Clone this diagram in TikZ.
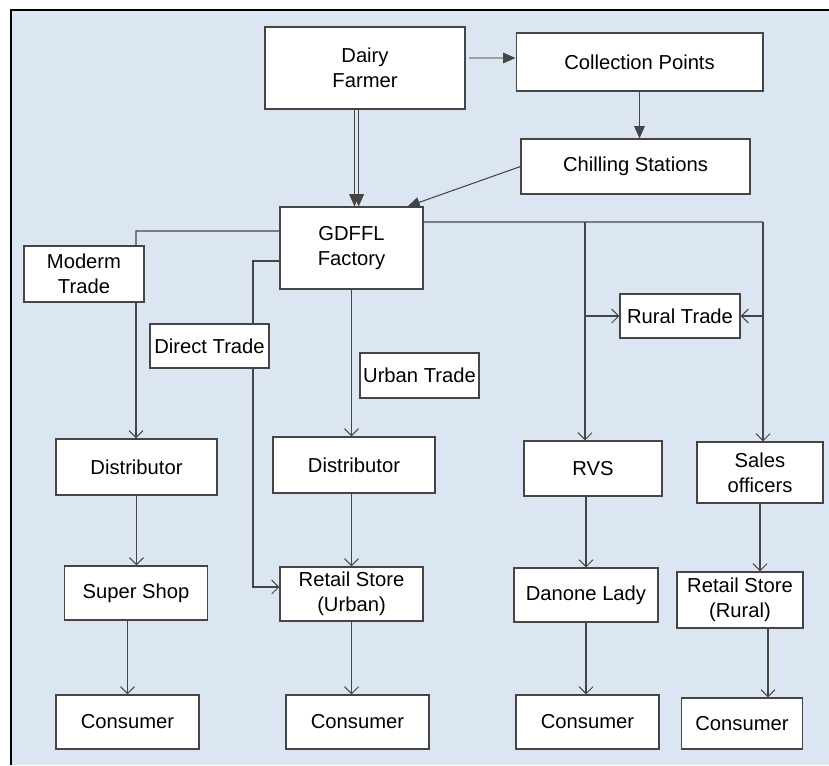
\documentclass[tikz,border=0pt]{standalone}
\usepackage{fontspec}
\setmainfont{Liberation Sans}
\usetikzlibrary{arrows.meta}
\definecolor{panelblue}{HTML}{DCE6F2}
\definecolor{linegray}{HTML}{454545}
\definecolor{thingray}{HTML}{A0A0A0}
\tikzset{chainbox/.style={draw=linegray,fill=white,line width=0.6pt,align=center,inner sep=1pt,font=\fontsize{11.5}{14}\selectfont},
	boxsize/.style 2 args={minimum width=#1cm,minimum height=#2cm},
	flow/.style={draw=linegray,line width=0.6pt,-{Straight Barb[length=4pt,width=8pt]}},
	feed/.style={draw=linegray,line width=0.6pt,-{Triangle[length=7pt,width=6pt,color=linegray]}},
	link/.style={draw=linegray,line width=0.6pt}}

\begin{document}
\begin{tikzpicture}[x=0.02cm,y=-0.02cm]
		\useasboundingbox (0,0) rectangle (829,765);
		\fill[panelblue] (11,10) rectangle (829,765);
		\draw[black,line width=1.2pt] (829,10) -- (11,10) -- (11,765);
		%
		\node[chainbox,boxsize={4.0}{1.64}] (df) at (365,68) {Dairy\\Farmer};
		\node[chainbox,boxsize={4.94}{1.16}] (cp) at (639.5,62) {Collection Points};
		\node[chainbox,boxsize={4.58}{1.10}] (cs) at (635.5,166.5) {Chilling Stations};
		\node[chainbox,boxsize={2.86}{1.64}] (gd) at (351.5,248) {GDFFL\\Factory};
		\node[chainbox,boxsize={2.40}{1.12}] (mt) at (84,274) {Moderm\\Trade};
		\node[chainbox,boxsize={2.38}{0.88}] (dt) at (209.5,346) {Direct Trade};
		\node[chainbox,boxsize={2.38}{0.90}] (ut) at (419.5,375.5) {Urban Trade};
		\node[chainbox,boxsize={2.40}{0.88}] (rt) at (680,316) {Rural Trade};
		\node[chainbox,boxsize={3.22}{1.12}] (d1) at (136.5,467) {Distributor};
		\node[chainbox,boxsize={3.24}{1.12}] (d2) at (354,465) {Distributor};
		\node[chainbox,boxsize={2.76}{1.10}] (rvs) at (593,468.5) {RVS};
		\node[chainbox,boxsize={2.52}{1.22}] (so) at (760,472.5) {Sales\\officers};
		\node[chainbox,boxsize={2.86}{1.08}] (ss) at (136,593) {Super Shop};
		\node[chainbox,boxsize={2.86}{1.08}] (ru) at (351.5,594) {Retail Store\\(Urban)};
		\node[chainbox,boxsize={2.88}{1.08}] (dl) at (586,595) {Danone Lady};
		\node[chainbox,boxsize={2.52}{1.12}] (rr) at (740,600) {Retail Store\\(Rural)};
		\node[chainbox,boxsize={2.86}{1.08}] (c1) at (127.5,722) {Consumer};
		\node[chainbox,boxsize={2.86}{1.08}] (c2) at (357.5,722) {Consumer};
		\node[chainbox,boxsize={2.86}{1.08}] (c3) at (587.5,722) {Consumer};
		\node[chainbox,boxsize={2.43}{1.02}] (c4) at (742,723.5) {Consumer};
		%
		\coordinate (mtline) at (136,231);
		\coordinate (dtline) at (253,587);
		\coordinate (rvsline) at (585,222);
		\coordinate (soline) at (763,222);
		%
		\draw[feed,thingray] ([xshift=0.06cm,yshift=0.08cm]df.east |- cp.west) -- ([yshift=0.08cm]cp.west);
		\draw[feed] (cp.south) -- (cp.south |- cs.north);
		\draw[feed] (cs.west) -- ([xshift=-0.32cm]gd.north east);
		\draw[feed] ([xshift=-0.21cm]df.south) -- ([xshift=-0.21cm]df.south |- gd.north);
		\draw[feed] ([xshift=-0.126cm]df.south) -- ([xshift=-0.126cm]df.south |- gd.north);
		%
		\draw[link] ([yshift=0.34cm]gd.west) -- (mtline) -- (mtline |- mt.north);
		\draw[flow] (mtline |- mt.south) -- (mtline |- d1.north);
		\draw[link] ([yshift=-0.26cm]gd.west) -| (dtline |- dt.north);
		\draw[flow] (dtline |- dt.south) -- (dtline) -- (dtline -| ru.west);
		\draw[flow] (gd.south) -- (gd.south |- d2.north);
		\draw[link] ([yshift=0.52cm]gd.east) -- (soline);
		\draw[flow] (soline) -- (soline |- so.north);
		\draw[flow] (rvsline) -- (rvsline |- rvs.north);
		\draw[flow] (rvsline |- rt.west) -- (rt.west);
		\draw[flow] (soline |- rt.east) -- (rt.east);
		%
		\draw[flow] (d1.south) -- (d1.south |- ss.north);
		\draw[flow] (c1.north |- ss.south) -- (c1.north);
		\draw[flow] (ru.north |- d2.south) -- (ru.north);
		\draw[flow] (ru.south) -- (ru.south |- c2.north);
		\draw[flow] (dl.north |- rvs.south) -- (dl.north);
		\draw[flow] (dl.south) -- (dl.south |- c3.north);
		\draw[flow] (so.south) -- (so.south |- rr.north);
		\draw[flow] ([xshift=0.56cm]rr.south) -- ([xshift=0.56cm]rr.south |- c4.north);
	\end{tikzpicture}
\end{document}
